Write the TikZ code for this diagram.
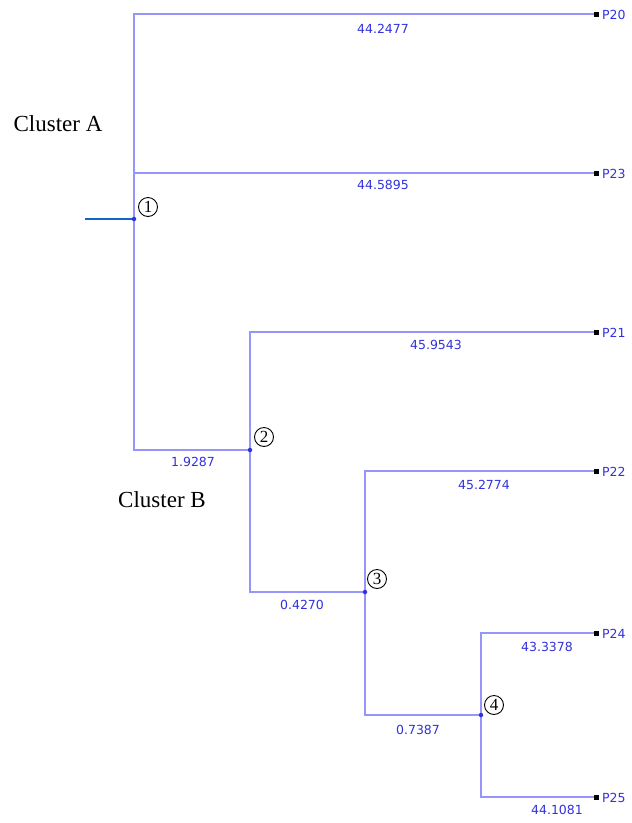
\documentclass[tikz,border=0pt]{standalone}
\usepackage{fontspec}
\setmainfont{Liberation Serif}
\newfontfamily\lblfont{DejaVu Sans}
\definecolor{branch}{RGB}{150,150,250}
\definecolor{lbl}{RGB}{50,50,220}
\definecolor{rootc}{RGB}{20,100,200}
\begin{document}
\begin{tikzpicture}[x=1pt,y=-1pt,
  br/.style={draw=branch,line width=1.3pt},
  val/.style={font=\lblfont\fontsize{12.5}{13}\selectfont,text=lbl,inner sep=0pt},
  leaf/.style={font=\lblfont\fontsize{12.5}{13}\selectfont,text=lbl,inner sep=0pt,anchor=west},
  tip/.style={fill=black,minimum size=5pt,inner sep=0pt},
  jn/.style={circle,fill=lbl,minimum size=4.5pt,inner sep=0pt},
  cnum/.style={circle,draw=black,line width=0.9pt,minimum size=19pt,inner sep=0pt,font=\fontsize{17}{17}\selectfont},
  clab/.style={font=\fontsize{23}{24}\selectfont,inner sep=0pt}]
\useasboundingbox (0,0) rectangle (632,823);
% joints
\coordinate (n1) at (134,219);
\coordinate (n2) at (250,450);
\coordinate (n3) at (365,592);
\coordinate (n4) at (481,715);
\coordinate (r0) at (85,219);
% tips
\node[tip] (t20) at (596,14) {};
\node[tip] (t23) at (596,173) {};
\node[tip] (t21) at (596,332) {};
\node[tip] (t22) at (596,471) {};
\node[tip] (t24) at (596,633) {};
\node[tip] (t25) at (596,797) {};
% branches
\draw[br] (t20.center) -| (n1) |- (n2);
\draw[br] (n1 |- t23) -- (t23.center);
\draw[br] (t21.center) -| (n2) |- (n3);
\draw[br] (t22.center) -| (n3) |- (n4);
\draw[br] (t24.center) -| (n4) |- (t25.center);
\draw[draw=rootc,line width=1.3pt] (r0) -- (n1);
\node[tip] at (t20) {};\node[tip] at (t23) {};\node[tip] at (t21) {};
\node[tip] at (t22) {};\node[tip] at (t24) {};\node[tip] at (t25) {};
\node[jn] (d1) at (n1) {};
\node[jn] (d2) at (n2) {};
\node[jn] (d3) at (n3) {};
\node[jn] (d4) at (n4) {};
% leaf labels
\node[leaf] (l20) at (602,15) {P20};
\node[leaf] (l23) at (602,174) {P23};
\node[leaf] (l21) at (602,333) {P21};
\node[leaf] (l22) at (602,472) {P22};
\node[leaf] (l24) at (602,634) {P24};
\node[leaf] (l25) at (602,798) {P25};
% branch values
\node[val] (v1) at (383,29) {44.2477};
\node[val] (v2) at (383,185) {44.5895};
\node[val] (v3) at (436,345) {45.9543};
\node[val] (v4) at (193,462) {1.9287};
\node[val] (v5) at (484,485) {45.2774};
\node[val] (v6) at (302,605) {0.4270};
\node[val] (v7) at (547,647) {43.3378};
\node[val] (v8) at (418,730) {0.7387};
\node[val] (v9) at (557,810) {44.1081};
% circled numbers
\node[cnum] (c1) at (148,207) {1};
\node[cnum] (c2) at (264,437) {2};
\node[cnum] (c3) at (377,579) {3};
\node[cnum] (c4) at (494,705) {4};
% cluster labels
\node[clab] (ca) at (58,124) {Cluster A};
\node[clab] (cb) at (162,500) {Cluster B};
\end{tikzpicture}
\end{document}
